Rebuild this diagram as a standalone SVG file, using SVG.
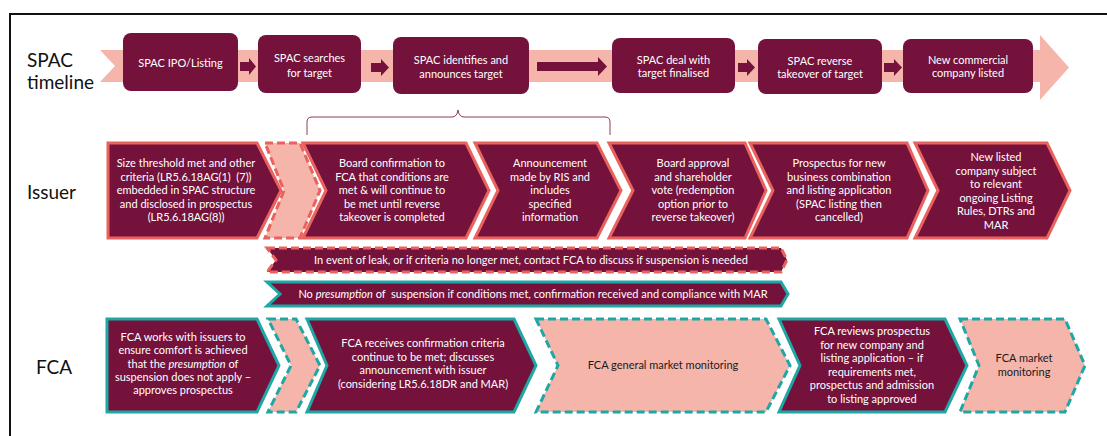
<svg xmlns="http://www.w3.org/2000/svg" width="1107" height="436" viewBox="0 0 1107 436">
<defs>
<style>
.frame{fill:none;stroke:#111;stroke-width:2}
.band{fill:#f5b5ab}
.box{fill:#74123b}
.issuer{fill:#74123b;stroke:#e9625e;stroke-width:3;stroke-linejoin:miter}
.issuerL{fill:#f5b5ab;stroke:#e9625e;stroke-width:3;stroke-dasharray:8 4}
.fca{fill:#74123b;stroke:#1ea7a5;stroke-width:3}
.fcaL{fill:#f5b5ab;stroke:#1ea7a5;stroke-width:3;stroke-dasharray:8 4}
.bandI{fill:#74123b;stroke:#e9625e;stroke-width:3;stroke-dasharray:8 4}
.bandF{fill:#74123b;stroke:#1ea7a5;stroke-width:3}
.arr{fill:#74123b}
.brace{fill:none;stroke:#8a3a5c;stroke-width:1}
.lbl{font-family:Lato,"Liberation Sans",sans-serif;font-size:19px;fill:#111}
.t{font-family:Lato,"Liberation Sans",sans-serif;font-size:11px;fill:#fff;text-anchor:middle}
.d{font-family:Lato,"Liberation Sans",sans-serif;font-size:11px;fill:#1a1a1a;text-anchor:middle}
</style>
</defs>
<rect width="1107" height="436" fill="#fff"/>
<path class="frame" d="M10,437 L10,14 L1108,14"/>

<g id="labels">
<text class="lbl" x="27" y="67">SPAC</text>
<text class="lbl" x="27" y="89">timeline</text>
<text class="lbl" x="27" y="199">Issuer</text>
<text class="lbl" x="36" y="374">FCA</text>
</g>

<g id="timeline-band">
<path class="band" d="M100,50 L1040,50 L1040,35 L1069,67.5 L1040,100 L1040,82 L100,82 L115,66 Z"/>
</g>

<g id="connectors">
<path class="arr" d="M240,62 L249,62 L249,58 L256,66.5 L249,75 L249,71 L240,71 Z"/>
<path class="arr" d="M371,63 L381,63 L381,59 L389,67.5 L381,76 L381,72 L371,72 Z"/>
<path class="arr" d="M537,62 L598,62 L598,57 L607,66.5 L598,76 L598,71 L537,71 Z"/>
<path class="arr" d="M738,63 L747,63 L747,59 L755,67.5 L747,76 L747,72 L738,72 Z"/>
<path class="arr" d="M884,63 L894,63 L894,59 L902,67.5 L894,76 L894,72 L884,72 Z"/>
<path class="brace" d="M307,135 L307,122 Q307,117 312,117 L452,117 Q457,117 458,110 Q459,117 464,117 L605,117 Q610,117 610,122 L610,135"/>
</g>

<g id="spac-ipo">
<rect class="box" x="123" y="33" width="115" height="58" rx="8"/>
<text class="t" x="180.5" y="67">SPAC IPO/Listing</text>
</g>
<g id="spac-search">
<rect class="box" x="258" y="35" width="103" height="58" rx="8"/>
<text class="t" x="309.5" y="62">SPAC searches<tspan x="309.5" dy="15">for target</tspan></text>
</g>
<g id="spac-identify">
<rect class="box" x="393" y="37" width="136" height="57" rx="8"/>
<text class="t" x="461" y="64">SPAC identifies and<tspan x="461" dy="14">announces target</tspan></text>
</g>
<g id="spac-deal">
<rect class="box" x="612" y="38" width="123" height="55" rx="8"/>
<text class="t" x="673.5" y="64">SPAC deal with<tspan x="673.5" dy="13">target finalised</tspan></text>
</g>
<g id="spac-rto">
<rect class="box" x="758" y="39" width="124" height="55" rx="8"/>
<text class="t" x="820" y="65">SPAC reverse<tspan x="820" dy="13">takeover of target</tspan></text>
</g>
<g id="spac-new">
<rect class="box" x="903" y="39" width="130" height="54" rx="8"/>
<text class="t" x="968" y="64">New commercial<tspan x="968" dy="13">company listed</tspan></text>
</g>

<g id="issuer-1">
<path class="issuer" d="M108,143 L257,143 L281,190.5 L257,238 L108,238 Z"/>
<text class="t" x="186" y="167" xml:space="preserve">Size threshold met and other<tspan x="186" dy="13.5">criteria (LR5.6.18AG(1)  (7))</tspan><tspan x="186" dy="13.5">embedded in SPAC structure</tspan><tspan x="186" dy="13.5">and disclosed in prospectus</tspan><tspan x="186" dy="13.5">(LR5.6.18AG(8))</tspan></text>
</g>
<g id="issuer-gap">
<path class="issuerL" d="M265,143 L300,143 L320,190.5 L300,238 L265,238 L284,190.5 Z"/>
</g>
<g id="issuer-board-confirm">
<path class="issuer" d="M303,143 L466,143 L489,190.5 L466,238 L303,238 L326,190.5 Z"/>
<text class="t" x="392" y="167">Board confirmation to<tspan x="392" dy="13.5">FCA that conditions are</tspan><tspan x="392" dy="13.5">met &amp; will continue to</tspan><tspan x="392" dy="13.5">be met until reverse</tspan><tspan x="392" dy="13.5">takeover is completed</tspan></text>
</g>
<g id="issuer-announce">
<path class="issuer" d="M475,143 L597,143 L621,190.5 L597,238 L475,238 L498,190.5 Z"/>
<text class="t" x="550" y="167">Announcement<tspan x="550" dy="13.5">made by RIS and</tspan><tspan x="550" dy="13.5">includes</tspan><tspan x="550" dy="13.5">specified</tspan><tspan x="550" dy="13.5">information</tspan></text>
</g>
<g id="issuer-board-approval">
<path class="issuer" d="M609,143 L745,143 L766,190.5 L745,238 L609,238 L633,190.5 Z"/>
<text class="t" x="693" y="167">Board approval<tspan x="693" dy="13.5">and shareholder</tspan><tspan x="693" dy="13.5">vote (redemption</tspan><tspan x="693" dy="13.5">option prior to</tspan><tspan x="693" dy="13.5">reverse takeover)</tspan></text>
</g>
<g id="issuer-prospectus">
<path class="issuer" d="M750,143 L907,143 L928,190.5 L907,238 L750,238 L773,190.5 Z"/>
<text class="t" x="839" y="167">Prospectus for new<tspan x="839" dy="13.5">business combination</tspan><tspan x="839" dy="13.5">and listing application</tspan><tspan x="839" dy="13.5">(SPAC listing then</tspan><tspan x="839" dy="13.5">cancelled)</tspan></text>
</g>
<g id="issuer-new-listed">
<path class="issuer" d="M915,143 L1047,143 L1070,190.5 L1047,238 L915,238 L938,190.5 Z"/>
<text class="t" x="996" y="161">New listed<tspan x="996" dy="13.6">company subject</tspan><tspan x="996" dy="13.6">to relevant</tspan><tspan x="996" dy="13.6">ongoing Listing</tspan><tspan x="996" dy="13.6">Rules, DTRs and</tspan><tspan x="996" dy="13.6">MAR</tspan></text>
</g>

<g id="band-leak">
<path class="bandI" d="M267,248 L781,248 L787,260 L781,272 L267,272 L276,260 Z"/>
<text class="t" x="531" y="264">In event of leak, or if criteria no longer met, contact FCA to discuss if suspension is needed</text>
</g>
<g id="band-presumption">
<path class="bandF" d="M267,282 L781,282 L788,294 L781,306 L267,306 L280,294 Z"/>
<text class="t" x="533" y="298" xml:space="preserve">No <tspan font-style="italic">presumption</tspan> of  suspension if conditions met, confirmation received and compliance with MAR</text>
</g>

<g id="fca-works">
<path class="fca" d="M107,319 L257,319 L279,365.5 L257,412 L107,412 Z"/>
<text class="t" x="183" y="341">FCA works with issuers to<tspan x="183" dy="13.3">ensure comfort is achieved</tspan><tspan x="183" dy="13.3">that the <tspan font-style="italic">presumption</tspan> of</tspan><tspan x="183" dy="13.3">suspension does not apply –</tspan><tspan x="183" dy="13.3">approves prospectus</tspan></text>
</g>
<g id="fca-gap">
<path class="fcaL" d="M268,319 L296,319 L320,365.5 L296,412 L268,412 L291,365.5 Z"/>
</g>
<g id="fca-receives">
<path class="fca" d="M307,319 L514,319 L536,365.5 L514,412 L307,412 L327,365.5 Z"/>
<text class="t" x="423" y="347">FCA receives confirmation criteria<tspan x="423" dy="13.5">continue to be met; discusses</tspan><tspan x="423" dy="13.5">announcement with issuer</tspan><tspan x="423" dy="13.5">(considering LR5.6.18DR and MAR)</tspan></text>
</g>
<g id="fca-general">
<path class="fcaL" d="M536,319 L766,319 L790,365.5 L766,412 L536,412 L558,365.5 Z"/>
<text class="d" x="663" y="369">FCA general market monitoring</text>
</g>
<g id="fca-reviews">
<path class="fca" d="M779,319 L945,319 L967,365.5 L945,412 L779,412 L800,365.5 Z"/>
<text class="t" x="872" y="335">FCA reviews prospectus<tspan x="872" dy="13.6">for new company and</tspan><tspan x="872" dy="13.6">listing application – if</tspan><tspan x="872" dy="13.6">requirements met,</tspan><tspan x="872" dy="13.6">prospectus and admission</tspan><tspan x="872" dy="13.6">to listing approved</tspan></text>
</g>
<g id="fca-market">
<path class="fcaL" d="M960,319 L1065,319 L1085,365.5 L1065,412 L960,412 L979,365.5 Z"/>
<text class="d" x="1024" y="362">FCA market<tspan x="1024" dy="14">monitoring</tspan></text>
</g>
</svg>
